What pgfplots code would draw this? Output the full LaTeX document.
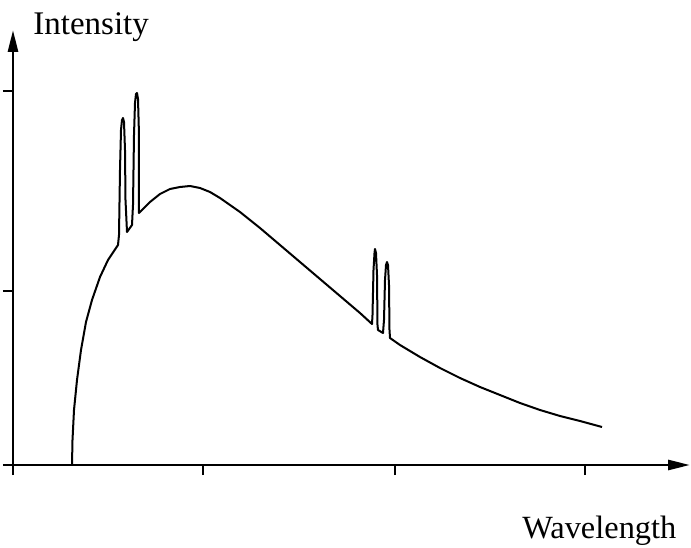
\documentclass[border=0pt]{standalone}
\usepackage{fontspec}
\setmainfont{Liberation Serif}
\usepackage{pgfplots}
\pgfplotsset{compat=1.18}
\usetikzlibrary{arrows.meta}

\begin{document}
\begin{tikzpicture}
\begin{axis}[
    x=0.5pt, y=0.5pt,
    xmin=0, xmax=677, ymin=0, ymax=435,
    axis lines=left,
    axis line style={line width=1.4pt, -{Triangle[length=11pt,width=5pt]}},
    xtick={0,190,382,572}, ytick={0,174,374},
    xticklabels={}, yticklabels={},
    tick style={black, line width=1.2pt},
    major tick length=5pt,
    tick align=outside,
    clip=false,
  ]
  % corners of the whole figure (pixel units)
  \coordinate (bbsw) at (axis cs:-13,-82);
  \coordinate (bbne) at (axis cs:678,465);
  \addplot[black, line width=1pt, line join=round] coordinates {
    (59,0) (59.5,25) (61,55) (64,85) (68,115) (73,143) (79,165) (87,188)
    (95,205) (105,220)
    (106,230) (107,295) (108,335) (109,345) (110,347) (111,343) (112,315)
    (112.5,265) (114,233) (119,240)
    (120,260) (121,330) (122,362) (123,371) (124,372) (125,366) (126,330) (126,252)
    (137,263) (147,271) (157,276) (167,278) (177,279) (187,277) (197,273)
    (207,267) (227,253) (247,237) (267,220) (287,203) (307,186) (327,169)
    (347,152) (359,141)
    (359.5,150) (360.5,195) (361.5,212) (362,216) (363,212) (364,190)
    (364.5,140) (365,135) (370,132)
    (371,145) (372,185) (373,200) (374,203) (375,200) (376,180) (376.5,135)
    (377,127) (387,120) (407,108) (427,97) (447,87) (467,78) (487,70)
    (507,62) (527,55) (547,49) (567,44) (589,38)
  };
  \node[anchor=base west, font=\fontsize{16.5}{19}\selectfont, inner sep=0pt]
    at (axis cs:20,430) {Intensity};
  \node[anchor=base west, font=\fontsize{16.2}{19}\selectfont, inner sep=0pt]
    at (axis cs:509,-73) {Wavelength};
\end{axis}
\pgfresetboundingbox
\useasboundingbox (bbsw) rectangle (bbne);
\end{tikzpicture}
\end{document}
